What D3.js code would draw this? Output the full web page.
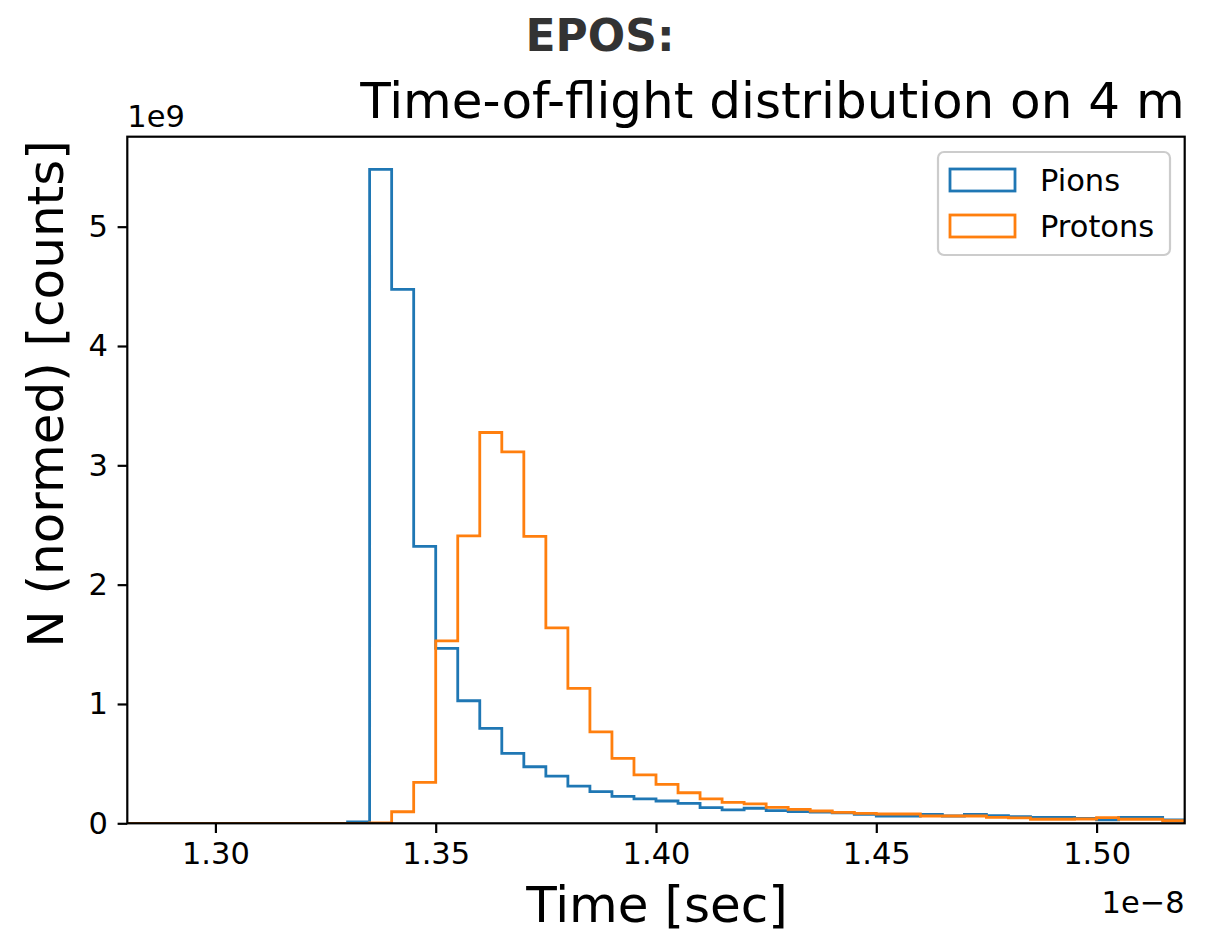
<!DOCTYPE html>
<html>
<head>
<meta charset="utf-8">
<script src="https://cdn.jsdelivr.net/npm/d3@7/dist/d3.min.js"></script>
<style>
  html, body { margin: 0; padding: 0; background: #fff; }
  svg { display: block; font-family: "DejaVu Sans", sans-serif; }
</style>
</head>
<body>
<svg id="chart" width="1216" height="938"></svg>
<script>
/* EPOS time-of-flight histogram (step outlines), values in units of 1e9 counts, time in 1e-8 s */
var BIN_EDGES = [1.280, 1.285, 1.290, 1.295, 1.300, 1.305, 1.310, 1.315, 1.320, 1.325,
  1.330, 1.335, 1.340, 1.345, 1.350, 1.355, 1.360, 1.365, 1.370, 1.375,
  1.380, 1.385, 1.390, 1.395, 1.400, 1.405, 1.410, 1.415, 1.420, 1.425,
  1.430, 1.435, 1.440, 1.445, 1.450, 1.455, 1.460, 1.465, 1.470, 1.475,
  1.480, 1.485, 1.490, 1.495, 1.500, 1.505, 1.510, 1.515, 1.520];

var PIONS = [0, 0, 0, 0, 0, 0, 0, 0, 0, 0,
  0.012, 5.48, 4.475, 2.32, 1.466, 1.027, 0.795, 0.586, 0.474, 0.396,
  0.312, 0.265, 0.225, 0.204, 0.187, 0.167, 0.132, 0.112, 0.126, 0.106,
  0.098, 0.093, 0.087, 0.074, 0.061, 0.061, 0.075, 0.061, 0.075, 0.064,
  0.056, 0.050, 0.050, 0.042, 0.028, 0.050, 0.050, 0.028];

var PROTONS = [0, 0, 0, 0, 0, 0, 0, 0, 0, 0,
  0, 0.003, 0.097, 0.343, 1.529, 2.409, 3.275, 3.112, 2.404, 1.638,
  1.131, 0.767, 0.544, 0.405, 0.327, 0.256, 0.204, 0.176, 0.162, 0.134,
  0.117, 0.103, 0.092, 0.084, 0.078, 0.078, 0.061, 0.061, 0.061, 0.050,
  0.045, 0.034, 0.034, 0.036, 0.047, 0.034, 0.034, 0.022];

var SERIES = ['Pions', 'Protons'];
var COLORS = ['#1f77b4', '#ff7f0e'];
var X_TICKS = [1.30, 1.35, 1.40, 1.45, 1.50];
var Y_TICKS = [0, 1, 2, 3, 4, 5];

var L = 127.3, R = 1184.7, T = 136.7, B = 823.3;
var SMALL = 30.5, BIG = 50;

var svg = d3.select('#chart');
var x = d3.scaleLinear().domain([1.28, 1.52]).range([L, R]);
var y = d3.scaleLinear().domain([0, 5.48 * 1.05]).range([B, T]);

svg.append('defs').append('clipPath').attr('id', 'plotclip')
  .append('rect').attr('x', L).attr('y', T).attr('width', R - L).attr('height', B - T);

// step outline like histtype='step'
function stepPoints(vals) {
  var pts = [[x(BIN_EDGES[0]), y(0)]];
  vals.forEach(function (v, i) {
    pts.push([x(BIN_EDGES[i]), y(v)]);
    pts.push([x(BIN_EDGES[i + 1]), y(v)]);
  });
  pts.push([x(BIN_EDGES[vals.length]), y(0)]);
  return pts;
}

var gH = svg.append('g').attr('clip-path', 'url(#plotclip)');
[PIONS, PROTONS].forEach(function (vals, k) {
  gH.append('path').attr('d', d3.line()(stepPoints(vals)))
    .attr('fill', 'none').attr('stroke', COLORS[k]).attr('stroke-width', 2.8)
    .attr('stroke-linejoin', 'miter');
});

// axes
var xAxis = svg.append('g').attr('transform', 'translate(0,' + B + ')')
  .call(d3.axisBottom(x).tickValues(X_TICKS).tickFormat(d3.format('.2f')).tickSize(9.7).tickPadding(9.7));
var yAxis = svg.append('g').attr('transform', 'translate(' + L + ',0)')
  .call(d3.axisLeft(y).tickValues(Y_TICKS).tickFormat(d3.format('d')).tickSize(9.7).tickPadding(9.7));
[xAxis, yAxis].forEach(function (a) {
  a.select('.domain').remove();
  a.selectAll('line').attr('stroke', '#000').attr('stroke-width', 2.2);
  a.selectAll('text').attr('font-size', SMALL).attr('fill', '#000').attr('font-family', 'DejaVu Sans');
});

// frame
svg.append('rect').attr('x', L).attr('y', T).attr('width', R - L).attr('height', B - T)
  .attr('fill', 'none').attr('stroke', '#000').attr('stroke-width', 2.2);

// offset labels
svg.append('text').attr('x', L).attr('y', T - 10).attr('font-size', SMALL).text('1e9');
svg.append('text').attr('x', R).attr('y', 913).attr('text-anchor', 'end').attr('font-size', SMALL).text('1e\u22128');

// axis labels
svg.append('text').attr('x', (L + R) / 2 + 1).attr('y', 922).attr('text-anchor', 'middle')
  .attr('font-size', BIG).text('Time [sec]');
svg.append('text').attr('transform', 'translate(63,394) rotate(-90)')
  .attr('text-anchor', 'middle').attr('font-size', BIG).text('N (normed) [counts]');

// titles
svg.append('text').attr('x', 600).attr('y', 51).attr('text-anchor', 'middle')
  .attr('font-size', 44).attr('font-weight', 'bold').attr('fill', '#333').text('EPOS:');
svg.append('text').attr('x', R).attr('y', 118).attr('text-anchor', 'end')
  .attr('font-size', BIG).text('Time-of-flight distribution on 4 m');

// legend
var lg = svg.append('g');
lg.append('rect').attr('x', 938).attr('y', 152).attr('width', 232).attr('height', 103).attr('rx', 6)
  .attr('fill', '#fff').attr('fill-opacity', 0.8).attr('stroke', '#cccccc').attr('stroke-width', 2.2);
SERIES.forEach(function (name, k) {
  var cy = 180 + k * 46;
  lg.append('rect').attr('x', 950).attr('y', cy - 11).attr('width', 65).attr('height', 22)
    .attr('fill', 'none').attr('stroke', COLORS[k]).attr('stroke-width', 2.8);
  lg.append('text').attr('x', 1040).attr('y', cy).attr('dy', '0.36em').attr('font-size', SMALL).text(name);
});
</script>
</body>
</html>
